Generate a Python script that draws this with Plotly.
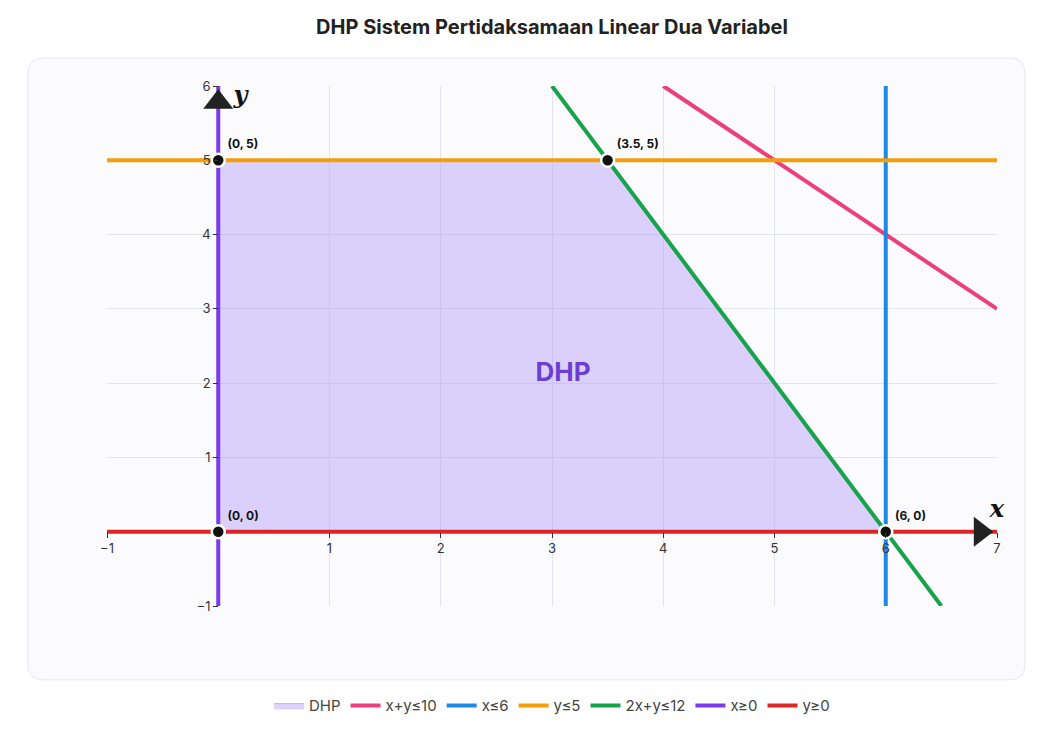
import plotly.graph_objects as go

# data
dhp_x = [0, 0, 3.5, 6, 0]
dhp_y = [0, 5, 5, 0, 0]

lines = [
    ("x+y≤10", "#ec407a", [4, 7], [6, 3]),
    ("x≤6", "#1e88e5", [6, 6], [-1, 6]),
    ("y≤5", "#f59e0b", [-1, 7], [5, 5]),
    ("2x+y≤12", "#16a34a", [3, 6.5], [6, -1]),
    ("x≥0", "#7c3aed", [0, 0], [-1, 6]),
    ("y≥0", "#dc2626", [-1, 7], [0, 0]),
]

corner_x = [0, 0, 3.5, 6]
corner_y = [0, 5, 5, 0]
corner_labels = ["(0, 0)", "(0, 5)", "(3.5, 5)", "(6, 0)"]

x_ticks = [-1, 1, 2, 3, 4, 5, 6, 7]
y_ticks = [-1, 1, 2, 3, 4, 5, 6]

FONT = "Inter"

fig = go.Figure()

fig.add_trace(go.Scatter(
    x=dhp_x, y=dhp_y, fill="toself", mode="lines", name="DHP",
    fillcolor="rgba(167,139,250,0.38)", line=dict(width=1, color="rgba(167,139,250,0.6)"),
    hoverinfo="skip",
))

for name, color, xs, ys in lines:
    fig.add_trace(go.Scatter(x=xs, y=ys, mode="lines", name=name,
                             line=dict(color=color, width=4), cliponaxis=False))

# axis arrows
fig.add_trace(go.Scatter(x=[0], y=[5.78], mode="markers", showlegend=False, cliponaxis=False,
                         marker=dict(symbol="triangle-up", size=26, color="#222")))
fig.add_trace(go.Scatter(x=[6.85], y=[0], mode="markers", showlegend=False, cliponaxis=False,
                         marker=dict(symbol="triangle-right", size=26, color="#222")))
fig.add_trace(go.Scatter(x=[0.2, 7.0], y=[5.85, 0.28], mode="text", text=["y", "x"],
                         showlegend=False, cliponaxis=False,
                         textfont=dict(family="DejaVu Serif", size=24, color="#111",
                                       weight="bold", style="italic")))

# corner points
fig.add_trace(go.Scatter(
    x=corner_x, y=corner_y, mode="markers+text", text=corner_labels,
    textposition="top right", showlegend=False, cliponaxis=False,
    textfont=dict(family=FONT, size=12, color="#111", weight="bold"),
    marker=dict(size=13, color="#111", line=dict(color="white", width=2.5)),
))

fig.add_trace(go.Scatter(x=[3.1], y=[2.12], mode="text", text=["DHP"], showlegend=False,
                         textfont=dict(family=FONT, size=26, color="#6d3fd0", weight="bold")))

# card background
x0, x1, y0, y1, r, ry = -0.0888, 1.0315, -0.142, 1.0538, 0.018, 0.03
card = (f"M {x0+r},{y0} L {x1-r},{y0} Q {x1},{y0} {x1},{y0+ry} L {x1},{y1-ry} "
        f"Q {x1},{y1} {x1-r},{y1} L {x0+r},{y1} Q {x0},{y1} {x0},{y1-ry} "
        f"L {x0},{y0+ry} Q {x0},{y0} {x0+r},{y0} Z")
fig.add_shape(type="path", path=card, xref="paper", yref="paper", layer="below",
              fillcolor="#fbfbfe", line=dict(color="#e6e6ee", width=1))

fig.update_layout(
    width=1051, height=732,
    margin=dict(l=99, r=62, t=78, b=134),
    paper_bgcolor="white", plot_bgcolor="#f7f8fc",
    font=dict(family=FONT, size=14, color="#333"),
    title=dict(text="DHP Sistem Pertidaksamaan Linear Dua Variabel", x=0.5, xref="paper",
               y=0.974, yanchor="middle",
               font=dict(family=FONT, size=20, color="#222", weight="bold")),
    legend=dict(orientation="h", x=0.5, xanchor="center", y=-0.192, yanchor="middle",
                font=dict(size=15, color="#444")),
    xaxis=dict(range=[-1, 7], tickvals=x_ticks, showgrid=True, gridcolor="#e3e5ec", zeroline=False,
               anchor="free", position=1/7, ticks="outside", ticklen=5, tickcolor="#333",
               showline=False, tickfont=dict(size=13, color="#333"), fixedrange=True),
    yaxis=dict(range=[-1, 6], tickvals=y_ticks, showgrid=True, gridcolor="#e3e5ec", zeroline=False,
               anchor="free", position=1/8, ticks="outside", ticklen=5, tickcolor="#333",
               showline=False, tickfont=dict(size=13, color="#333"), fixedrange=True),
)

fig.write_html("out.html")
